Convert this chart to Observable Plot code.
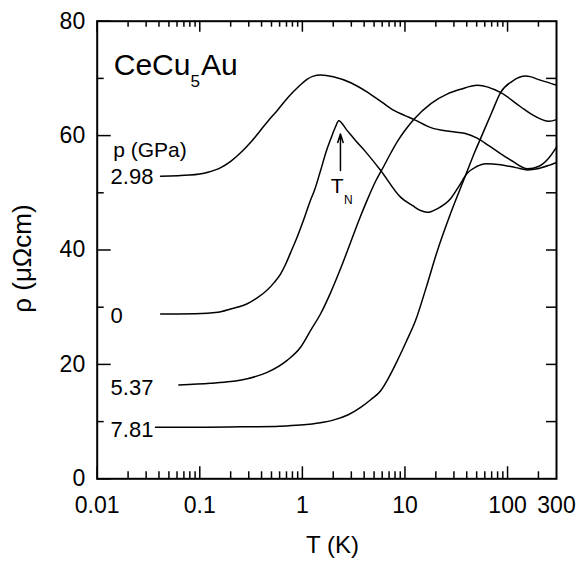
<!DOCTYPE html>
<html>
<head>
<meta charset="utf-8">
<script src="https://cdn.jsdelivr.net/npm/d3@7"></script>
<script src="https://cdn.jsdelivr.net/npm/@observablehq/plot@0.6"></script>
<style>
  body { margin: 0; background: #fff; }
  svg { display: block; }
</style>
</head>
<body>
<div id="chart"></div>
<script>
// ---- Data ----
const pressures = ["0", "2.98", "5.37", "7.81"];

const T_p0 = [0.0415, 0.09, 0.15, 0.2, 0.29, 0.36, 0.454, 0.53, 0.612, 0.69, 0.766, 0.9, 1.025, 1.2, 1.31, 1.5, 1.72, 1.88, 2.1, 2.26, 2.7, 3.31, 4.12, 5.8, 9.1, 12, 14.2, 16.4, 17.9, 20.6, 27.8, 34, 40.4, 50, 61, 86, 120, 157, 196, 253, 300];
const rho_p0 = [28.8, 28.85, 29.1, 29.7, 30.6, 31.6, 33.0, 34.3, 35.8, 37.6, 39.5, 42.5, 45.2, 48.7, 50.4, 53.8, 57.4, 59.3, 61.5, 62.6, 61.0, 59.1, 57.2, 53.9, 49.2, 47.7, 46.9, 46.6, 46.7, 47.2, 48.95, 51.3, 53.4, 54.6, 55.1, 54.9, 54.4, 54.0, 54.2, 54.8, 55.3];

const T_p298 = [0.0415, 0.08, 0.12, 0.16, 0.2, 0.25, 0.32, 0.39, 0.47, 0.57, 0.68, 0.82, 0.96, 1.1, 1.28, 1.5, 2.0, 3.0, 4.3, 6.0, 7.8, 10, 12.3, 17.9, 28, 38, 50, 65, 80, 110, 157, 200, 250, 300];
const rho_p298 = [52.9, 53.1, 53.6, 54.4, 55.5, 57.0, 59.0, 60.9, 62.7, 64.4, 66.1, 67.7, 68.9, 69.8, 70.4, 70.6, 70.3, 69.2, 67.6, 65.8, 64.4, 63.5, 62.8, 61.4, 60.7, 60.4, 59.6, 58.3, 57.2, 55.6, 54.2, 54.6, 56.0, 58.0];

const T_p537 = [0.0625, 0.127, 0.2, 0.29, 0.454, 0.71, 0.96, 1.2, 1.51, 1.89, 2.4, 2.96, 3.56, 4.3, 5.2, 6.2, 7.3, 8.45, 10.2, 12.3, 17.9, 26, 34.8, 50.9, 86, 135, 169, 255, 300];
const rho_p537 = [16.4, 16.7, 17.0, 17.5, 18.6, 20.7, 23.0, 25.9, 28.9, 32.6, 37.1, 41.4, 45.2, 48.8, 52.1, 54.6, 57.0, 59.0, 61.1, 62.9, 65.6, 67.3, 68.1, 68.8, 67.5, 65.0, 63.8, 62.5, 62.8];

const T_p781 = [0.037, 0.1, 0.3, 0.6, 0.96, 1.5, 2.03, 2.8, 3.7, 4.7, 5.8, 7.0, 8.45, 10.3, 12.7, 16.2, 20.3, 28, 37.7, 48.6, 54, 70, 86, 111, 151, 209, 300];
const rho_p781 = [9.0, 9.0, 9.1, 9.2, 9.4, 9.8, 10.3, 11.2, 12.5, 13.9, 15.4, 17.8, 20.7, 24.0, 27.7, 33.6, 39.4, 46.5, 52.4, 57.4, 59.3, 64.0, 67.6, 69.5, 70.4, 69.7, 68.8];

// axis ticks
const xTickLabels = [0.01, 0.1, 1, 10, 100, 300];
const xMajorTicks = [0.01, 0.1, 1, 10, 100];
const xMinorTicks = [0.02,0.03,0.04,0.05,0.06,0.07,0.08,0.09, 0.2,0.3,0.4,0.5,0.6,0.7,0.8,0.9, 2,3,4,5,6,7,8,9, 20,30,40,50,60,70,80,90, 200];
const yTickLabels = [0, 20, 40, 60, 80];
const yMinorTicks = [10, 30, 50, 70];
const yRightTicks = [10, 20, 30, 40, 50, 60, 70];

// annotations (in data coordinates)
const curveLabels = ["2.98", "0", "5.37", "7.81"];
const curveLabelT = [0.0135, 0.0135, 0.0135, 0.0135];
const curveLabelRho = [52.8, 28.4, 15.9, 8.6];
const headerLabel = ["p (GPa)"]; const headerT = 0.0143; const headerRho = 57.4;
const titleLabel = ["CeCu5Au"]; const titleT = 0.0145; const titleRho = 72.2;
const tnArrow = [{x: 2.35, y1: 53.9, y2: 60.3}];
const tnT = [{t: "T", x: 2.18, y: 51.1}];
const tnN = [{t: "N", x: 2.81, y: 48.8}];
const yTitle = ["ρ (μΩcm)"]; const yTitleRho = 38.5;
const xTitle = ["T (K)"];

// ---- Build table ----
const series = [[T_p0, rho_p0], [T_p298, rho_p298], [T_p537, rho_p537], [T_p781, rho_p781]];
const rows = [];
series.forEach(([Ts, Rs], k) => Ts.forEach((t, i) => rows.push({p: pressures[k], T: t, rho: Rs[i]})));

// ---- Layout ----
const W = 576, H = 562;
const mL = 96.7, mR = 20, mT = 20.7, mB = 83.7;
const iW = W - mL - mR, iH = H - mT - mB;

const chart = Plot.plot({
  width: W, height: H,
  marginLeft: mL, marginRight: mR, marginTop: mT, marginBottom: mB,
  style: {fontFamily: "'Liberation Sans', Arial, Helvetica, sans-serif", fontSize: "23px", background: "#fff", color: "#000"},
  x: {type: "log", domain: [0.01, 300], axis: null},
  y: {domain: [0, 80], axis: null},
  marks: [
    // inward ticks
    Plot.tickX(xMajorTicks, {x: d => d, insetTop: iH - 12, strokeWidth: 1.5}),
    Plot.tickX(xMinorTicks, {x: d => d, insetTop: iH - 7, strokeWidth: 1.5}),
    Plot.tickX(xMajorTicks, {x: d => d, insetBottom: iH - 11, strokeWidth: 1.5}),
    Plot.tickX(xMinorTicks, {x: d => d, insetBottom: iH - 6, strokeWidth: 1.5}),
    Plot.tickY(yTickLabels, {y: d => d, insetRight: iW - 14, strokeWidth: 1.5}),
    Plot.tickY(yMinorTicks, {y: d => d, insetRight: iW - 7, strokeWidth: 1.5}),
    Plot.tickY(yRightTicks, {y: d => d, insetLeft: iW - 10, strokeWidth: 1.5}),
    Plot.frame({strokeWidth: 2}),
    // tick labels
    Plot.text(xTickLabels, {x: d => d, frameAnchor: "bottom", lineAnchor: "top", textAnchor: "middle", dy: 18, text: d => String(d), fontSize: 23}),
    Plot.text(yTickLabels, {y: d => d, frameAnchor: "left", textAnchor: "end", lineAnchor: "middle", dx: -12, text: d => String(d), fontSize: 23}),
    // curves
    Plot.line(rows, {x: "T", y: "rho", z: "p", curve: "monotone-x", stroke: "#000", strokeWidth: 1.5}),
    // labels
    Plot.text(curveLabels, {x: (d, i) => curveLabelT[i], y: (d, i) => curveLabelRho[i], text: d => d, textAnchor: "start", fontSize: 22}),
    Plot.text(headerLabel, {x: () => headerT, y: () => headerRho, text: d => d, textAnchor: "start", fontSize: 21}),
    Plot.text(titleLabel, {x: () => titleT, y: () => titleRho, text: d => d, textAnchor: "start", fontSize: 30}),
    Plot.arrow(tnArrow, {x1: "x", x2: "x", y1: "y1", y2: "y2", headLength: 9, headAngle: 35, strokeWidth: 1.5, stroke: "#000"}),
    Plot.text(tnT, {x: "x", y: "y", text: "t", fontSize: 21}),
    Plot.text(tnN, {x: "x", y: "y", text: "t", fontSize: 12}),
    // axis titles
    Plot.text(xTitle, {frameAnchor: "bottom", lineAnchor: "middle", textAnchor: "middle", dx: 5.6, dy: 66.7, text: d => d, fontSize: 24}),
    Plot.text(yTitle, {y: () => yTitleRho, frameAnchor: "left", textAnchor: "middle", lineAnchor: "middle", dx: -75, rotate: -90, text: d => d, fontSize: 26})
  ]
});

// subscript in the compound name
d3.select(chart).selectAll("text").filter(function () { return this.textContent === "CeCu5Au"; }).each(function () {
  const t = d3.select(this);
  t.text(null);
  t.append("tspan").text("CeCu");
  t.append("tspan").attr("dy", 12).attr("font-size", 17).text("5");
  t.append("tspan").attr("dy", -12).attr("dx", 1).text("Au");
});

document.getElementById("chart").appendChild(chart);
</script>
</body>
</html>
